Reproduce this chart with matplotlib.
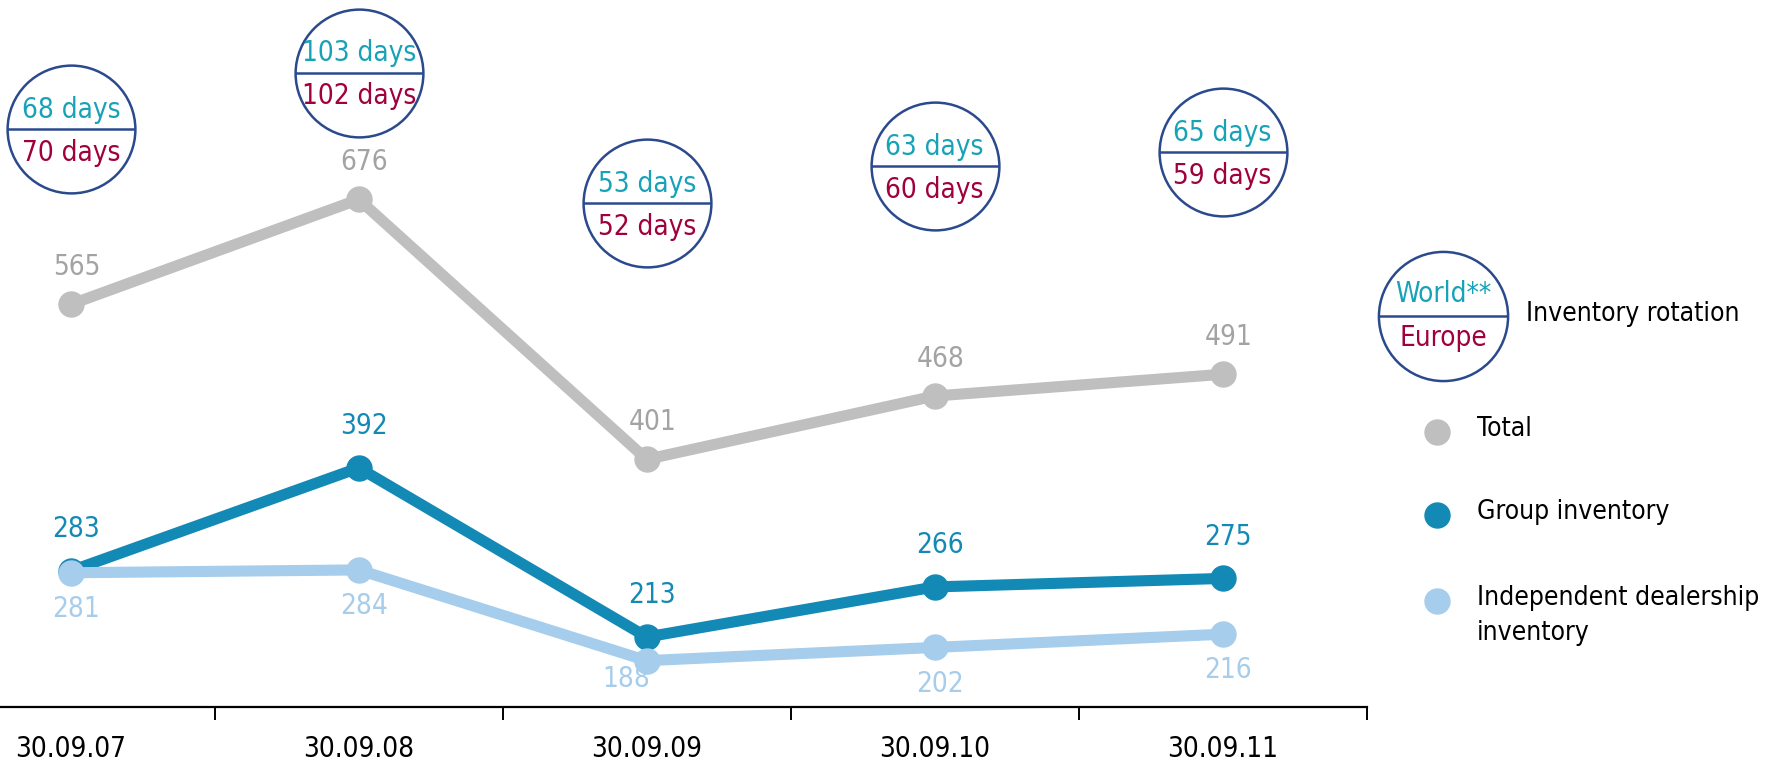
import matplotlib
matplotlib.use("Agg")
import matplotlib.pyplot as plt
from matplotlib.lines import Line2D

plt.rcParams['font.family'] = ['DejaVu Sans']
plt.rcParams['font.stretch'] = 'condensed'

# data
dates = ['30.09.07', '30.09.08', '30.09.09', '30.09.10', '30.09.11']
total = [565, 676, 401, 468, 491]
group = [283, 392, 213, 266, 275]
independent = [281, 284, 188, 202, 216]
world_days = ['68 days', '103 days', '53 days', '63 days', '65 days']
europe_days = ['70 days', '102 days', '52 days', '60 days', '59 days']

# colours
c_total = '#bfbfbf'
c_total_txt = '#a3a3a3'
c_group = '#1389b5'
c_indep = '#a6cdeb'
c_world = '#17a2b8'
c_europe = '#a0003c'
c_ring = '#2b4a8e'

# layout only: heights of the rotation circles (data units)
ring_y = [750, 810, 672, 711, 726]

fig = plt.figure(figsize=(17.68, 7.61), dpi=100)
ax = fig.add_axes([0, 0.071, 0.773, 0.929])
x = list(range(len(dates)))

ax.plot(x, total, color=c_total, lw=8, marker='o', ms=18, zorder=2)
ax.plot(x, group, color=c_group, lw=8, marker='o', ms=18, zorder=3)
ax.plot(x, independent, color=c_indep, lw=8, marker='o', ms=18, zorder=4)

fs = 20
for i in x:
    ax.annotate(str(total[i]), (i, total[i]), xytext=(4, 27), textcoords='offset points',
                ha='center', va='center', fontsize=fs, color=c_total_txt)
    ax.annotate(str(group[i]), (i, group[i]), xytext=(4, 30), textcoords='offset points',
                ha='center', va='center', fontsize=fs, color=c_group)
    dx, dy = (4, -26)
    if i == 2:
        dx, dy = (-15, -13)
    ax.annotate(str(independent[i]), (i, independent[i]), xytext=(dx, dy), textcoords='offset points',
                ha='center', va='center', fontsize=fs, color=c_indep)

    # rotation circle
    ax.plot(i, ring_y[i], marker='o', ms=92, mfc='none', mec=c_ring, mew=1.8, clip_on=False)
    ax.plot(i, ring_y[i], marker='_', ms=92, mec=c_ring, mew=1.8, clip_on=False)
    ax.annotate(world_days[i], (i, ring_y[i]), xytext=(0, 14), textcoords='offset points',
                ha='center', va='center', fontsize=fs, color=c_world)
    ax.annotate(europe_days[i], (i, ring_y[i]), xytext=(0, -17), textcoords='offset points',
                ha='center', va='center', fontsize=fs, color=c_europe)

ax.set_xlim(-0.246, 4.5)
ax.set_ylim(139, 887)

for s in ['top', 'right', 'left']:
    ax.spines[s].set_visible(False)
ax.spines['bottom'].set_linewidth(1.6)
ax.set_yticks([])
ax.set_xticks([0.5, 1.5, 2.5, 3.5, 4.5])
ax.set_xticklabels([])
ax.tick_params(axis='x', which='major', length=9, width=1.4, direction='out')
ax.set_xticks(x, minor=True)
ax.set_xticklabels(dates, minor=True, fontsize=fs)
ax.tick_params(axis='x', which='minor', length=0, pad=20)

# legend
W, H = 1768, 761
def fx(px):
    return px / W
def fy(py):
    return 1 - py / H

lfs = 19
fig.add_artist(Line2D([fx(1443)], [fy(316)], marker='o', ms=93, mfc='none', mec=c_ring, mew=1.8))
fig.add_artist(Line2D([fx(1443)], [fy(316)], marker='_', ms=93, mec=c_ring, mew=1.8))
fig.text(fx(1443), fy(294), 'World**', ha='center', va='center', fontsize=fs, color=c_world)
fig.text(fx(1443), fy(338), 'Europe', ha='center', va='center', fontsize=fs, color=c_europe)
fig.text(fx(1526), fy(314), 'Inventory rotation', ha='left', va='center', fontsize=lfs, color='black')

legend_items = [('Total', c_total, 432), ('Group inventory', c_group, 515),
                ('Independent dealership\ninventory', c_indep, 601)]
for label, col, py in legend_items:
    fig.add_artist(Line2D([fx(1437)], [fy(py)], marker='o', ms=18, mfc=col, mec=col, lw=0))
    fig.text(fx(1477), fy(py - 16), label, ha='left', va='top', fontsize=lfs,
             color='black', linespacing=1.45)

fig.savefig('out.png', dpi=100)
